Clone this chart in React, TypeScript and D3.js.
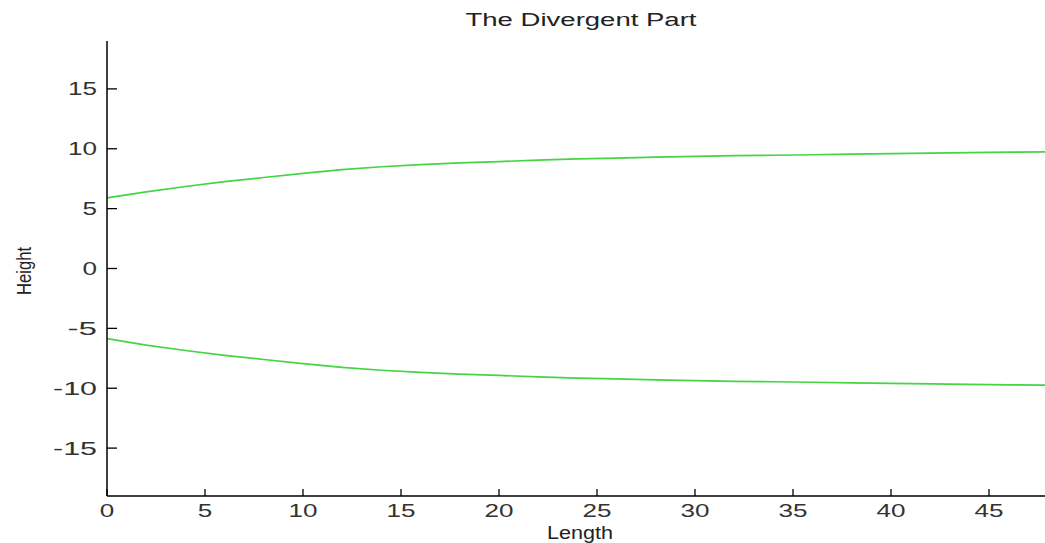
import React from "react";
import * as d3 from "d3";

const title = "The Divergent Part";
const xLabel = "Length";
const yLabel = "Height";
const xTicks = [0, 5, 10, 15, 20, 25, 30, 35, 40, 45];
const yTicks = [-15, -10, -5, 0, 5, 10, 15];
const lengths = [0, 2, 4, 6, 8, 10, 12, 14, 16, 18, 20, 22, 24, 26, 28, 30, 32, 34, 36, 38, 40, 42, 44, 46, 48];
const upper = [5.9, 6.4, 6.85, 7.25, 7.6, 7.95, 8.25, 8.5, 8.68, 8.82, 8.93, 9.05, 9.15, 9.22, 9.3, 9.37, 9.42, 9.46, 9.5, 9.55, 9.6, 9.64, 9.68, 9.72, 9.74];
const lower = [-5.85, -6.4, -6.85, -7.25, -7.6, -7.95, -8.25, -8.5, -8.68, -8.82, -8.93, -9.05, -9.15, -9.22, -9.3, -9.37, -9.42, -9.46, -9.5, -9.55, -9.6, -9.64, -9.68, -9.72, -9.74];

const W = 1045;
const H = 543;
const FONT = "'Liberation Sans', Arial, sans-serif";

export default function App() {
  const x = d3.scaleLinear().domain([0, 48]).range([107, 1047.8]);
  const y = d3.scaleLinear().domain([-19, 19]).range([496, 41]);
  const line = d3
    .line<number>()
    .x((_, i) => x(lengths[i]))
    .y((d) => y(d));
  const x0 = x(0);
  const yBottom = y(-19);
  const labelLen = (s: string) =>
    s.split("").reduce((a, c) => a + (c === "-" ? 15 : 14.5), 0);

  return (
    <svg
      width={W}
      height={H}
      style={{ position: "absolute", left: 0, top: 0, background: "#fff" }}
      fontFamily={FONT}
    >
      <rect x={0} y={0} width={W} height={H} fill="#fff" />
      <path d={line(upper) || ""} fill="none" stroke="#44d444" strokeWidth={1.7} />
      <path d={line(lower) || ""} fill="none" stroke="#44d444" strokeWidth={1.7} />
      <line x1={x0} x2={x0} y1={y(19)} y2={yBottom} stroke="#000" strokeWidth={1.5} />
      <line x1={x0} x2={W + 5} y1={yBottom} y2={yBottom} stroke="#000" strokeWidth={1.5} />
      {yTicks.map((t) => (
        <g key={"y" + t}>
          <line x1={x0} x2={x0 + 10} y1={y(t)} y2={y(t)} stroke="#000" strokeWidth={1.3} />
          <text
            x={x0 - 10}
            y={y(t) + 6.5}
            fontSize={18}
            textAnchor="end"
            fill="#333"
            textLength={labelLen(String(t))}
            lengthAdjust="spacingAndGlyphs"
          >
            {t}
          </text>
        </g>
      ))}
      {xTicks.map((t) => (
        <g key={"x" + t}>
          <line x1={x(t)} x2={x(t)} y1={yBottom} y2={yBottom - 7} stroke="#000" strokeWidth={1.3} />
          <text
            x={x(t)}
            y={yBottom + 21}
            fontSize={18}
            textAnchor="middle"
            fill="#333"
            textLength={labelLen(String(t))}
            lengthAdjust="spacingAndGlyphs"
          >
            {t}
          </text>
        </g>
      ))}
      <text
        x={581}
        y={26}
        fontSize={18}
        textAnchor="middle"
        fill="#222"
        textLength={231}
        lengthAdjust="spacingAndGlyphs"
      >
        {title}
      </text>
      <text
        x={580}
        y={539}
        fontSize={18}
        textAnchor="middle"
        fill="#222"
        textLength={66}
        lengthAdjust="spacingAndGlyphs"
      >
        {xLabel}
      </text>
      <text
        transform={`translate(31,271) rotate(-90)`}
        fontSize={20}
        textAnchor="middle"
        fill="#222"
        textLength={48}
        lengthAdjust="spacingAndGlyphs"
      >
        {yLabel}
      </text>
    </svg>
  );
}
